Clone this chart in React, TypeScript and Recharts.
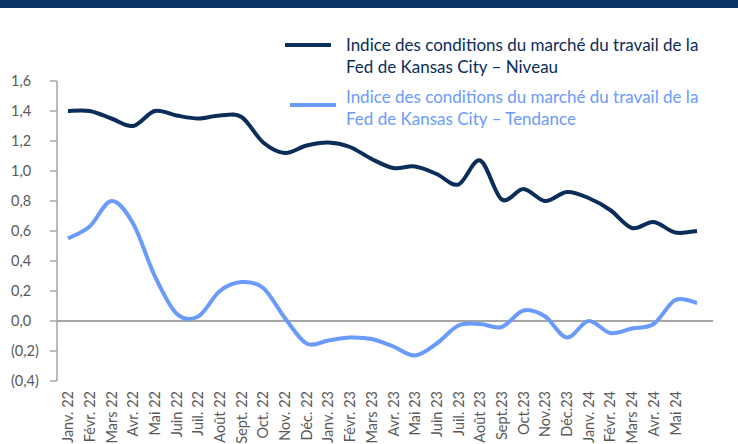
import { LineChart, Line, XAxis, YAxis, ReferenceLine } from "recharts";

// monthly categories, Jan 2022 - Jun 2024
const months = [
  "Janv. 22", "Févr. 22", "Mars 22", "Avr. 22", "Mai 22", "Juin 22",
  "Juil. 22", "Août 22", "Sept. 22", "Oct. 22", "Nov. 22", "Déc. 22",
  "Janv. 23", "Févr. 23", "Mars 23", "Avr. 23", "Mai 23", "Juin 23",
  "Juil. 23", "Août 23", "Sept.23", "Oct.23", "Nov.23", "Déc.23",
  "Janv. 24", "Févr. 24", "Mars 24", "Avr. 24", "Mai 24", "Juin 24",
];

// the last month has no label on the reference axis
const labelledMonths = months.slice(0, 29);

const niveau = [
  1.40, 1.40, 1.35, 1.30, 1.40, 1.37, 1.35, 1.37, 1.36, 1.19,
  1.12, 1.17, 1.19, 1.16, 1.08, 1.02, 1.03, 0.98, 0.91, 1.07,
  0.81, 0.88, 0.80, 0.86, 0.82, 0.74, 0.62, 0.66, 0.59, 0.60,
];

const tendance = [
  0.55, 0.63, 0.80, 0.65, 0.30, 0.05, 0.03, 0.20, 0.26, 0.22,
  0.02, -0.15, -0.13, -0.11, -0.12, -0.17, -0.23, -0.15, -0.03, -0.02,
  -0.04, 0.07, 0.03, -0.11, 0.00, -0.08, -0.05, -0.02, 0.14, 0.12,
];

const yTicks = [-0.4, -0.2, 0, 0.2, 0.4, 0.6, 0.8, 1.0, 1.2, 1.4, 1.6];

const seriesNames = [
  "Indice des conditions du marché du travail de la Fed de Kansas City – Niveau",
  "Indice des conditions du marché du travail de la Fed de Kansas City – Tendance",
];

const DARK = "#0b2d59";
const LIGHT = "#6a9bfb";
const FONT = "Lato, 'Open Sans', sans-serif";

const data = months.map((m, i) => ({
  month: m,
  niveau: niveau[i],
  tendance: tendance[i],
}));

// Catmull-Rom style smoothing, close to the spreadsheet's "smoothed line"
function smoothCurve(context: any) {
  let pts: number[][] = [];
  return {
    areaStart() {},
    areaEnd() {},
    lineStart() {
      pts = [];
    },
    point(x: number, y: number) {
      pts.push([+x, +y]);
    },
    lineEnd() {
      if (!pts.length) return;
      context.moveTo(pts[0][0], pts[0][1]);
      const k = 1 / 6;
      for (let i = 0; i < pts.length - 1; i++) {
        const p0 = pts[i - 1] || pts[i];
        const p1 = pts[i];
        const p2 = pts[i + 1];
        const p3 = pts[i + 2] || p2;
        context.bezierCurveTo(
          p1[0] + (p2[0] - p0[0]) * k,
          p1[1] + (p2[1] - p0[1]) * k,
          p2[0] - (p3[0] - p1[0]) * k,
          p2[1] - (p3[1] - p1[1]) * k,
          p2[0],
          p2[1]
        );
      }
    },
  };
}

function fmt(v: number) {
  const s = Math.abs(v).toFixed(1).replace(".", ",");
  return v < 0 ? `(${s})` : s;
}

function YTick(props: any) {
  const { y, payload } = props;
  return (
    <text x={11} y={y} dy="0.35em" textAnchor="start" fill="#595959" fontSize={14.5} fontFamily={FONT}>
      {fmt(payload.value)}
    </text>
  );
}

function XTick(props: any) {
  const { x, y, payload } = props;
  return (
    <text
      x={x}
      y={y}
      dy="0.36em"
      textAnchor="end"
      transform={`rotate(-90, ${x}, ${y})`}
      fill="#595959"
      fontSize={14.5}
      fontFamily={FONT}
    >
      {payload.value}
    </text>
  );
}

function LegendBox() {
  const colors = [DARK, LIGHT];
  return (
    <div style={{ position: "absolute", left: 285, top: 34, fontFamily: FONT, fontSize: 17, lineHeight: "22px" }}>
      {seriesNames.map((name, i) => (
        <div key={name} style={{ display: "flex", alignItems: "flex-start", marginBottom: 8 }}>
          <div
            style={{
              width: 46,
              height: 4,
              background: colors[i],
              marginLeft: i === 0 ? 0 : 5,
              marginRight: i === 0 ? 15 : 10,
              marginTop: i === 0 ? 9 : 17,
            }}
          />
          <div style={{ color: colors[i], width: 365 }}>{name}</div>
        </div>
      ))}
    </div>
  );
}

export default function App() {
  return (
    <div style={{ position: "absolute", left: 0, top: 0, width: 738, height: 444, overflow: "hidden", background: "#fff" }}>
      <div style={{ position: "absolute", left: 0, top: 0, width: 738, height: 8, background: "#0b3564" }} />
      <LineChart
        width={738}
        height={444}
        data={data}
        margin={{ top: 81, right: 25, bottom: 0, left: 0 }}
      >
        <XAxis
          dataKey="month"
          ticks={labelledMonths}
          interval={0}
          axisLine={false}
          tickLine={false}
          tickSize={0}
          tickMargin={10}
          height={63}
          padding={{ left: 11, right: 16 }}
          tick={<XTick />}
        />
        <YAxis
          width={57}
          domain={[-0.4, 1.6]}
          ticks={yTicks}
          interval={0}
          tickSize={7}
          stroke="#a6a6a6"
          strokeWidth={1.5}
          tick={<YTick />}
        />
        <ReferenceLine y={0} stroke="#a6a6a6" strokeWidth={2} />
        <Line
          type={smoothCurve as any}
          dataKey="niveau"
          stroke={DARK}
          strokeWidth={4}
          dot={false}
          isAnimationActive={false}
        />
        <Line
          type={smoothCurve as any}
          dataKey="tendance"
          stroke={LIGHT}
          strokeWidth={4}
          dot={false}
          isAnimationActive={false}
        />
      </LineChart>
      <LegendBox />
    </div>
  );
}
